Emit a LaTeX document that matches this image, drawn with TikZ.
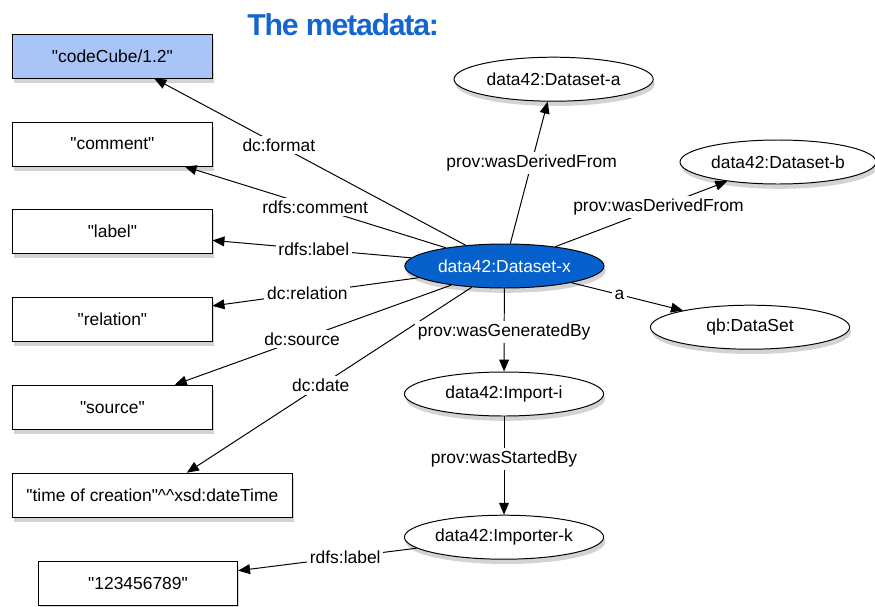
\documentclass[tikz,border=0pt]{standalone}
\usepackage{fontspec}
\setmainfont{Liberation Sans}
\newfontfamily\titlefont[LetterSpace=-4]{Liberation Sans}
\usepackage{tikz}
\usetikzlibrary{shapes.geometric, arrows.meta, shadows}
\definecolor{rdfblue}{HTML}{0761CC}
\definecolor{litblue}{HTML}{A9C4F7}
\definecolor{headblue}{HTML}{1464D2}
\newcommand{\qd}{\textquotedbl}

\begin{document}
\begin{tikzpicture}[
    lit/.style={draw, line width=0.7pt, fill=white, minimum width=4.98cm,
                minimum height=1.1cm, inner sep=2pt,
                drop shadow={shadow xshift=0.04cm, shadow yshift=-0.12cm, opacity=0.35}},
    res/.style={ellipse, draw, line width=0.7pt, fill=white, minimum width=4.98cm,
                minimum height=1.1cm, inner sep=0pt,
                drop shadow={shadow xshift=0.04cm, shadow yshift=-0.12cm, opacity=0.35}},
    prop/.style={fill=white, inner sep=2pt},
    arrow/.style={-{Triangle[length=8.5pt, width=7pt]}, line width=0.7pt},
    every node/.style={font=\fontsize{12.4}{15}\selectfont},
]
    \useasboundingbox (0,0) rectangle (21.875,-15.15);

    \node[anchor=base, text=headblue, font=\titlefont\bfseries\fontsize{21.5}{24}\selectfont]
        (title) at (8.58,-0.875) {The metadata:};

    % literals
    \node[lit, fill=litblue] (fmt) at (2.81,-1.40)  {\qd codeCube/1.2\qd};
    \node[lit] (cmt)  at (2.81,-3.60)  {\qd comment\qd};
    \node[lit] (lbl)  at (2.81,-5.79)  {\qd label\qd};
    \node[lit] (rel)  at (2.81,-7.99)  {\qd relation\qd};
    \node[lit] (src)  at (2.81,-10.18) {\qd source\qd};
    \node[lit, minimum width=6.98cm] (date) at (3.81,-12.38) {\qd time of creation\qd\^{}\^{}xsd:dateTime};
    \node[lit] (num)  at (3.45,-14.58) {\qd 123456789\qd};

    % resources
    \node[res, fill=rdfblue, text=white] (dsx) at (12.61,-6.65) {data42:Dataset-x};
    \node[res] (dsa)  at (13.84,-1.98)  {data42:Dataset-a};
    \node[res, minimum width=4.9cm] (dsb) at (19.45,-4.05) {data42:Dataset-b};
    \node[res] (qb)   at (18.75,-8.18)  {qb:DataSet};
    \node[res] (imp)  at (12.6,-9.85)   {data42:Import-i};
    \node[res] (impk) at (12.6,-13.43)  {data42:Importer-k};

    \draw[arrow] (dsx) -- node[prop, pos=0.60] (pfmt) {dc:format} (fmt);
    \draw[arrow] (dsx) -- node[prop, pos=0.50] (pcmt) {rdfs:comment} (cmt);
    \draw[arrow] (dsx) -- node[prop, pos=0.49] (plbl) {rdfs:label} (lbl);
    \draw[arrow] (dsx) -- node[prop, pos=0.54] (prel) {dc:relation} (rel);
    \draw[arrow] (dsx) -- node[prop, pos=0.54] (psrc) {dc:source} (src);
    \draw[arrow] (dsx) -- node[prop, pos=0.53] (pdate) {dc:date} (date);
    \draw[arrow] (dsx) -- node[prop, pos=0.57] (pdsa) {prov:wasDerivedFrom} (dsa);
    \draw[arrow] (dsx) -- node[prop, pos=0.60] (pdsb) {prov:wasDerivedFrom} (dsb);
    \draw[arrow] (dsx) -- node[prop, pos=0.43] (pqb) {a} (qb);
    \draw[arrow] (dsx) -- node[prop, pos=0.52] (pimp) {prov:wasGeneratedBy} (imp);
    \draw[arrow] (imp) -- node[prop, pos=0.43] (pimpk) {prov:wasStartedBy} (impk);
    \draw[arrow] (impk) -- node[prop, pos=0.40] (pnum) {rdfs:label} (num);
\end{tikzpicture}
\end{document}
